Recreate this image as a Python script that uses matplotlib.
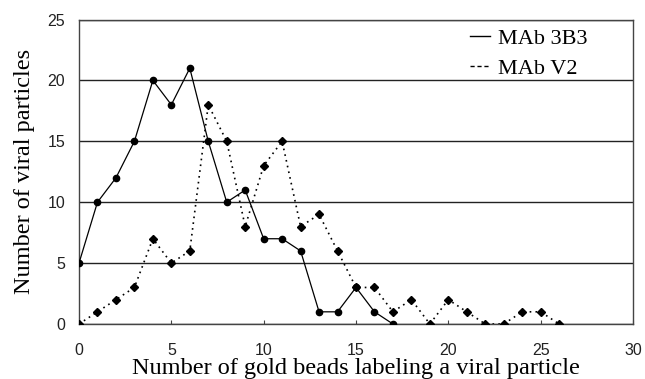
import matplotlib.pyplot as plt
from matplotlib.lines import Line2D

# number of gold beads per particle
beads_3b3 = list(range(0, 18))
count_3b3 = [5, 10, 12, 15, 20, 18, 21, 15, 10, 11, 7, 7, 6, 1, 1, 3, 1, 0]

beads_v2 = list(range(0, 27))
count_v2 = [0, 1, 2, 3, 7, 5, 6, 18, 15, 8, 13, 15, 8, 9, 6, 3, 3, 1, 2, 0,
            2, 1, 0, 0, 1, 1, 0]

x_ticks = [0, 5, 10, 15, 20, 25, 30]
y_ticks = [0, 5, 10, 15, 20, 25]

serif = ['Liberation Serif', 'DejaVu Serif']
sans = ['Liberation Sans', 'DejaVu Sans']

fig = plt.figure(figsize=(6.45, 3.79), dpi=100)
ax = fig.add_axes([79 / 645, 1 - 324 / 379, (633 - 79) / 645, (324 - 19.5) / 379])

ax.plot(beads_3b3, count_3b3, color='black', lw=0.9, marker='o', ms=4.5, zorder=3)
ax.plot(beads_v2, count_v2, color='black', lw=1.2, ls=(0, (1, 2.5)),
        marker='D', ms=4.2, zorder=3)

ax.set_xlim(0, 30)
ax.set_ylim(0, 25)
ax.set_xticks(x_ticks)
ax.set_yticks(y_ticks)
ax.yaxis.grid(True, color='#222222', lw=1.0)
ax.set_axisbelow(True)
for s in ax.spines.values():
    s.set_color('#444444')
    s.set_linewidth(1.0)
ax.tick_params(axis='x', direction='in', length=3, width=0.8, color='#444444', pad=14)
ax.tick_params(axis='y', length=0, pad=10)
for lab in ax.get_xticklabels() + ax.get_yticklabels():
    lab.set_family(sans)
    lab.set_fontsize(11.5)
    lab.set_color('#222222')

ax.set_xlabel('Number of gold beads labeling a viral particle', family=serif,
              fontsize=17.5)
ax.xaxis.set_label_coords(0.5, -0.112)
ax.set_ylabel('Number of viral particles', family=serif, fontsize=17.5, labelpad=9)

handles = [Line2D([], [], color='black', lw=1.0),
           Line2D([], [], color='black', lw=1.0, ls=(0, (3, 2)))]
ax.legend(handles, ['MAb 3B3', 'MAb V2'], loc='upper right', frameon=False,
          prop={'family': serif, 'size': 16}, borderpad=0, borderaxespad=0,
          handlelength=0.9, handletextpad=0.35, labelspacing=0.45,
          bbox_to_anchor=(0.917, 0.972))

fig.savefig('out.png', dpi=100)
